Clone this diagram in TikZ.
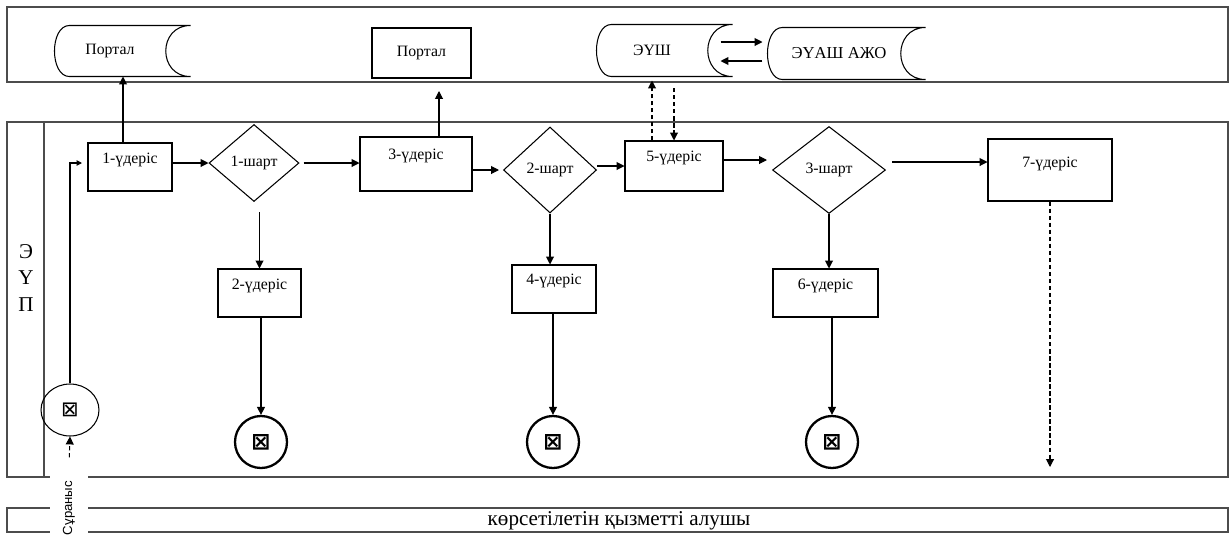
\documentclass[tikz,border=0pt]{standalone}
\usepackage{fontspec}
\setmainfont{Liberation Serif}
\setsansfont{Liberation Sans}
\newfontfamily\symfont{DejaVu Sans}
\usepackage{tikz}
\usetikzlibrary{arrows.meta,shapes.geometric}
\tikzset{font={\fontsize{9pt}{11}\selectfont}}

% outline of a stored data box round a node
\newcommand\storeline[1]{%
  \draw ([xshift=0.3cm]#1.north west) -- ([xshift=0.5cm]#1.north east)
    .. controls ([xshift=-0.16cm]#1.north east) and ([xshift=-0.16cm]#1.south east) .. ([xshift=0.5cm]#1.south east)
    -- ([xshift=0.3cm]#1.south west)
    .. controls ([xshift=-0.1cm]#1.south west) and ([xshift=-0.1cm]#1.north west) .. ([xshift=0.3cm]#1.north west);}

\begin{document}
\begin{tikzpicture}[x=0.02cm,y=-0.02cm,>={Triangle[length=4.5pt,width=4.5pt]},line width=0.6pt,
    lane/.style={draw=black!70,line width=0.8pt},
    proc node/.style 2 args={draw,inner sep=0pt,text height=#1,text depth=#2},
    cond node/.style={diamond,draw,inner sep=0pt},
    store node/.style={inner sep=0pt,minimum height=1cm},
    end node/.style={circle,draw,line width=1.3pt,minimum size=1.04cm,inner sep=0pt,
                     font=\symfont\bfseries\fontsize{13pt}{14}\selectfont},
    dashed link/.style={dash pattern=on 2.5pt off 1.5pt}]

  \useasboundingbox (0,0) rectangle (1230,538);

  % lanes
  \draw[lane] (7,7) rectangle (1228,82);
  \draw[lane] (7,122) rectangle (1228,477);
  \draw[lane] (44,122) -- (44,477);
  \draw[lane] (7,508) rectangle (1228,532);

  \node[align=center,font=\fontsize{12pt}{15.3}\selectfont] (lane) at (26,278) {Э\\Ү\\П};
  \node[font=\fontsize{12pt}{14}\selectfont] (user) at (619,521) {көрсетілетін қызметті алушы};
  \node[fill=white,rotate=90,inner xsep=0.3cm,inner ysep=0pt,minimum height=0.78cm,
        font=\sffamily\fontsize{7.5pt}{9}\selectfont] (req) at (69,508) {Сұраныс};

  % top lane
  \node[store node,minimum width=2.2cm] (sA) at (110,51) {Портал};
  \node[draw,minimum width=1.98cm,minimum height=1cm,inner sep=0pt] (pB) at (421.5,53) {Портал};
  \node[store node,minimum width=2.2cm,minimum height=1.02cm] (sB) at (652,50.5) {ЭҮШ};
  \node[store node,minimum width=2.64cm,minimum height=1.02cm,
        font=\fontsize{9.5pt}{11}\selectfont] (sC) at (834,53.5) {\hspace{0.2cm}ЭҮАШ АЖО};
  \storeline{sA}
  \storeline{sB}
  \storeline{sC}

  % steps
  \node[proc node={0.4cm}{0.56cm},minimum width=1.68cm] (p1) at (130,167) {1-үдеріс};
  \node[proc node={0.4cm}{0.56cm},minimum width=1.66cm] (p2) at (259.5,293) {2-үдеріс};
  \node[proc node={0.44cm}{0.64cm},minimum width=2.24cm] (p3) at (416,164) {3-үдеріс};
  \node[proc node={0.38cm}{0.58cm},minimum width=1.68cm] (p4) at (554,289) {4-үдеріс};
  \node[proc node={0.4cm}{0.6cm},minimum width=1.96cm] (p5) at (674,166) {5-үдеріс};
  \node[proc node={0.4cm}{0.56cm},minimum width=2.1cm] (p6) at (825.5,293) {6-үдеріс};
  \node[proc node={0.56cm}{0.68cm},minimum width=2.48cm] (p7) at (1050,170) {7-үдеріс};

  \node[cond node,minimum width=1.8cm,minimum height=1.54cm] (d1) at (254,163) {1-шарт};
  \node[cond node,minimum width=1.86cm,minimum height=1.72cm] (d2) at (550,170) {2-шарт};
  \node[cond node,minimum width=2.26cm,minimum height=1.74cm] (d3) at (829,170) {3-шарт};

  \node[ellipse,draw,minimum width=1.16cm,minimum height=1.04cm,inner sep=0pt,
        font=\symfont\fontsize{12pt}{14}\selectfont] (s) at (70,410) {⊠};
  \node[end node] (e1) at (261,442) {⊠};
  \node[end node] (e2) at (553,442) {⊠};
  \node[end node] (e3) at (832,442) {⊠};

  \coordinate (in1) at (82,163);
  \coordinate (up3) at (439,91);
  \coordinate (dn) at (674,88);
  \coordinate (out7) at (1050,467);

  % connectors
  \draw[-{Triangle[length=3pt,width=3pt]}] (s.north) |- (in1);
  \draw[dashed link,->,shorten <=0.16cm] (req.east) -- (s.south);
  \draw[->] ([xshift=-0.14cm]p1.north) -- ([xshift=-0.14cm]p1.north |- sA.south);
  \draw[->] (p1.east |- d1.west) -- (d1.west);
  \draw[->] ([xshift=0.08cm]d1.east) -- (d1.east -| p3.west);
  \draw[->] ([yshift=-0.2cm]d1.south -| p2.north) -- (p2.north);
  \draw[->] (p2.south -| e1) -- (e1.north);
  \draw[->] (p3.north -| up3) -- (up3);
  \draw[->,shorten >=0.08cm] (p3.east |- d2.west) -- (d2.west);
  \draw[->] (d2.east |- p5.west) -- (p5.west);
  \draw[->] (d2.south) -- (d2.south |- p4.north);
  \draw[->] (p4.south -| e2) -- (e2.north);
  \draw[dashed link,->,shorten >=0.08cm] (p5.north -| sB.south) -- (sB.south);
  \draw[dashed link,->] (dn) -- (p5.north);
  \draw[->,shorten >=0.1cm] ([yshift=0.12cm]p5.east) -- ([yshift=0.12cm]p5.east -| d3.west);
  \draw[->] ([xshift=0.12cm,yshift=0.16cm]d3.east) -- ([yshift=0.16cm]d3.east -| p7.west);
  \draw[->] (d3.south) -- (d3.south |- p6.north);
  \draw[->] (p6.south -| e3) -- (e3.north);
  \draw[dashed link,->] (p7.south) -- (out7);
  \draw[->,shorten >=0.1cm] ([xshift=0.26cm,yshift=0.17cm]sB.east) -- ([yshift=0.17cm]sB.east -| sC.west);
  \draw[->,shorten <=0.1cm] ([yshift=-0.21cm]sB.east -| sC.west) -- ([xshift=0.26cm,yshift=-0.21cm]sB.east);
\end{tikzpicture}
\end{document}
